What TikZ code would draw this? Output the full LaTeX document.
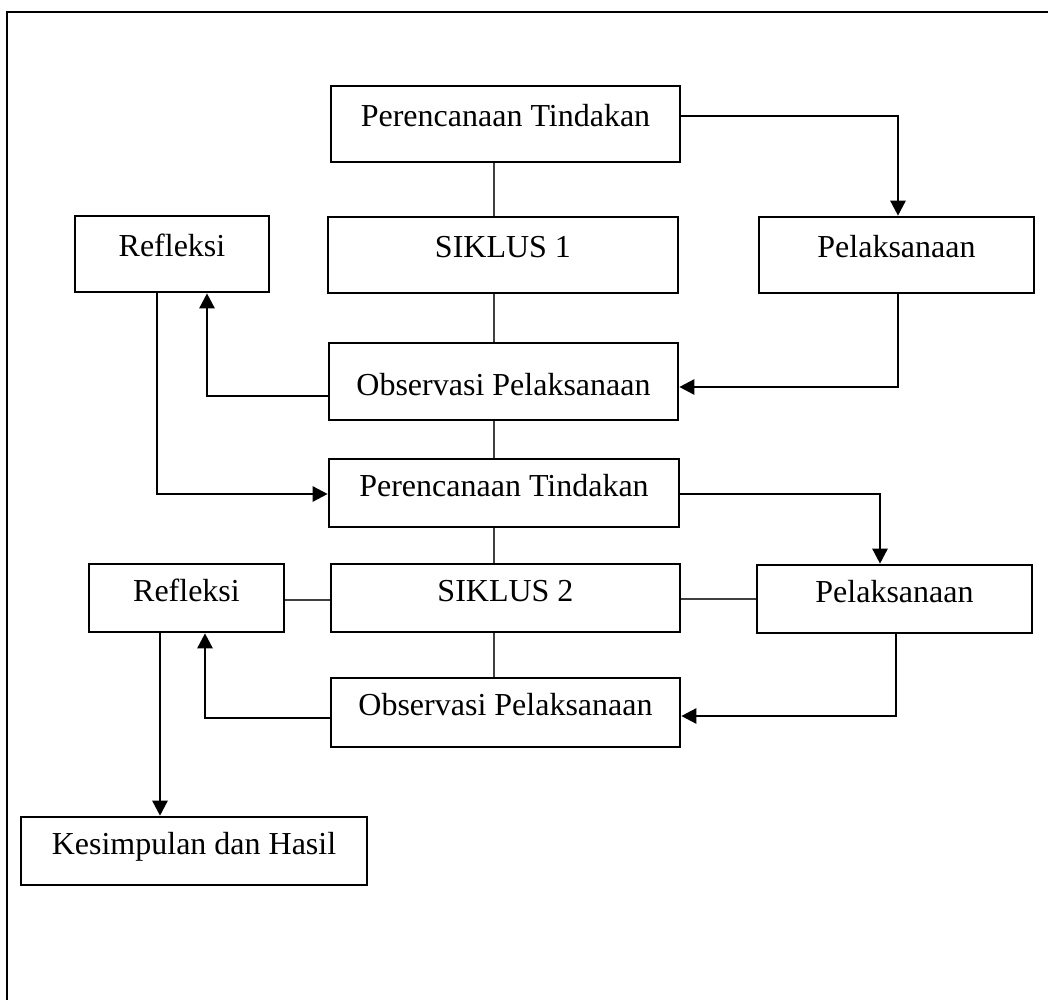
\documentclass[tikz,border=0pt]{standalone}
\usepackage{fontspec}
\setmainfont{Liberation Serif}
\usetikzlibrary{arrows.meta}
\tikzset{
  box/.style={draw=black, line width=2.6pt, rectangle, inner sep=0pt,
    font=\fontsize{32}{38}\selectfont, text height=20pt, text depth=14pt},
  arr/.style={draw=black, line width=2.5pt, -{Triangle[length=15pt,width=15pt]}},
  thin/.style={draw=black!75, line width=1.3pt},
  frame/.style={draw=black, line width=2.5pt}
}
\begin{document}
\begin{tikzpicture}[x=1pt,y=-1pt]
\useasboundingbox (0,0) rectangle (1052,1000);
% frame (top and left lines only)
\coordinate (ftr) at (1048,12);
\coordinate (ftl) at (7,12);
\coordinate (fbl) at (7,1000);
\draw[frame] (ftr) -- (ftl) -- (fbl);

% boxes
\node[box, minimum width=349pt, minimum height=76pt] (P1) at (505.5,124) {Perencanaan Tindakan};
\node[box, minimum width=350pt, minimum height=76pt] (S1) at (503,255) {SIKLUS 1};
\node[box, minimum width=194pt, minimum height=76pt] (R1) at (172,254) {Refleksi};
\node[box, minimum width=275pt, minimum height=76pt] (L1) at (896.5,255) {Pelaksanaan};
\node[box, minimum width=349pt, minimum height=77pt, text height=34pt, text depth=7pt] (O1) at (503.5,381.5) {Observasi Pelaksanaan};
\node[box, minimum width=350pt, minimum height=68pt] (P2) at (504,493) {Perencanaan Tindakan};
\node[box, minimum width=349pt, minimum height=68pt] (S2) at (505.5,598) {SIKLUS 2};
\node[box, minimum width=195pt, minimum height=68pt] (R2) at (186.5,598) {Refleksi};
\node[box, minimum width=275pt, minimum height=68pt] (L2) at (894.5,599) {Pelaksanaan};
\node[box, minimum width=349pt, minimum height=69pt] (O2) at (505.5,712.5) {Observasi Pelaksanaan};
\node[box, minimum width=346pt, minimum height=68pt] (K) at (194,851) {Kesimpulan dan Hasil};

% thin connectors
\draw[thin] ([xshift=-11.5pt]P1.south) -- ([xshift=-9pt]S1.north);
\draw[thin] ([xshift=-9pt]S1.south) -- ([xshift=-9.5pt]O1.north);
\draw[thin] ([xshift=-9.5pt]O1.south) -- ([xshift=-10pt]P2.north);
\draw[thin] ([xshift=-10pt]P2.south) -- ([xshift=-11.5pt]S2.north);
\draw[thin] ([xshift=-11.5pt]S2.south) -- ([xshift=-11.5pt]O2.north);
\draw[thin] ([yshift=-2pt]R2.east) -- ([yshift=-2pt]S2.west);
\draw[thin] ([yshift=-1pt]S2.east) -- (L2.west);

% cycle 1 arrows
\draw[arr] ([yshift=8pt]P1.east) -| ([xshift=1.5pt]L1.north);
\draw[arr] ([xshift=1.5pt]L1.south) |- ([yshift=-5.5pt]O1.east);
\draw[arr] ([yshift=-14.5pt]O1.west) -| ([xshift=35pt]R1.south);
\draw[arr] ([xshift=-15pt]R1.south) |- ([yshift=-1pt]P2.west);

% cycle 2 arrows
\draw[arr] ([yshift=-1pt]P2.east) -| ([xshift=-14.5pt]L2.north);
\draw[arr] ([xshift=-12pt,yshift=1.5pt]L2.south) -- ([xshift=1.5pt,yshift=1.5pt]L2.south) |- ([yshift=-3.5pt]O2.east);
\draw[arr] ([yshift=-5.5pt]O2.west) -| ([xshift=18.5pt]R2.south);
\draw[arr] ([xshift=-26.5pt]R2.south) -- ([xshift=-34pt]K.north);
\end{tikzpicture}
\end{document}
